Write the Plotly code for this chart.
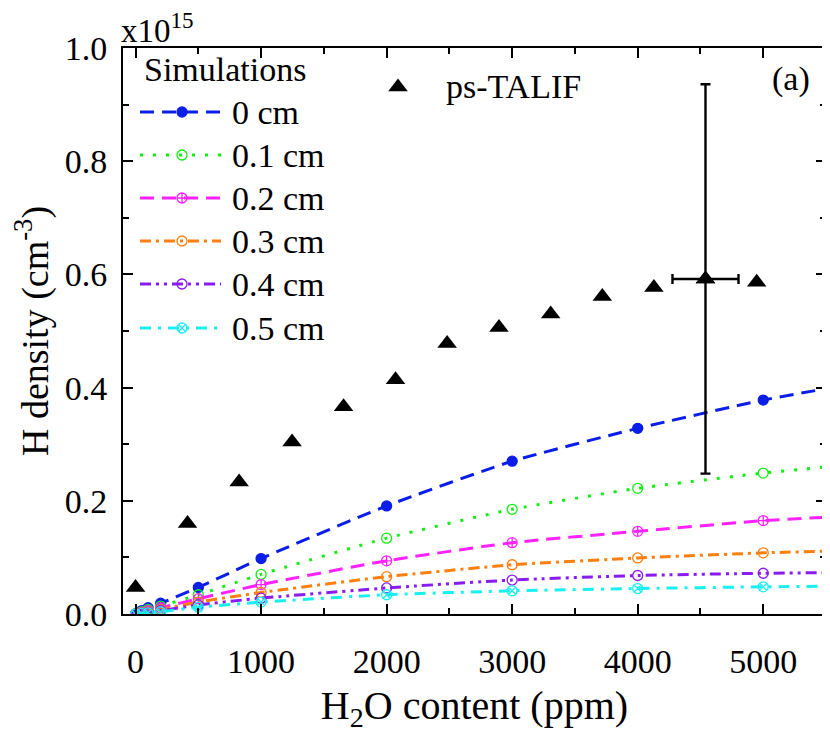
import plotly.graph_objects as go

# ---------------- data ----------------
sim_x = [0, 50, 100, 200, 500, 1000, 2000, 3000, 4000, 5000, 5500]
h_0cm = [0, 0.006, 0.011, 0.019, 0.047, 0.098, 0.191, 0.270, 0.328, 0.378, 0.398]
h_01cm = [0, 0.004, 0.008, 0.014, 0.034, 0.070, 0.134, 0.185, 0.222, 0.249, 0.260]
h_02cm = [0, 0.003, 0.006, 0.011, 0.027, 0.052, 0.094, 0.126, 0.146, 0.165, 0.171]
h_03cm = [0, 0.002, 0.004, 0.008, 0.021, 0.038, 0.066, 0.087, 0.099, 0.108, 0.111]
h_04cm = [0, 0.0015, 0.003, 0.006, 0.016, 0.028, 0.046, 0.060, 0.068, 0.072, 0.073]
h_05cm = [0, 0.001, 0.002, 0.004, 0.012, 0.021, 0.034, 0.041, 0.045, 0.048, 0.049]
marker_count = 10  # markers drawn at the first 10 sample points (up to 5000 ppm)

talif_x = [0, 414, 825, 1247, 1657, 2071, 2482, 2895, 3307, 3718, 4129, 4540, 4948]
talif_y = [0.047, 0.160, 0.233, 0.304, 0.366, 0.414, 0.478, 0.506, 0.530, 0.561, 0.577, 0.592, 0.586]
err_index = 11
err_x = [263]
err_y = [0.344]

series_names = ["0 cm", "0.1 cm", "0.2 cm", "0.3 cm", "0.4 cm", "0.5 cm"]
series_vals = [h_0cm, h_01cm, h_02cm, h_03cm, h_04cm, h_05cm]

# ---------------- styles ----------------
colors = ["#0a1ee8", "#11ee11", "#ff22ff", "#ff7f0e", "#8a1cf0", "#18f0f0"]
dashes = ["14px,8px", "3px,10px", "14px,8px", "11px,5px,3px,5px",
          "11px,5px,3px,5px,3px,5px", "11px,7px,3px,7px"]
symbols = ["circle", "circle-open", "circle-cross-open", "circle-open",
           "circle-open", "circle-x-open"]

FONT = "Liberation Serif"
OFF = 8  # page body margin in the browser
W, H = 830 - OFF, 737 - OFF
# plot area in page pixels: x 123..826, y 48..614
PX0, PX1, PY0, PY1 = 123, 826, 48, 614
L, T = PX0 - OFF, PY0 - OFF
R, B = W - (PX1 - OFF), H - (PY1 - OFF)
PW, PH = PX1 - PX0, PY1 - PY0


def lx(px):
    return (px - PX0) / PW


def ly(py):
    return (PY1 - py) / PH


fig = go.Figure()

for name, vals, c, d, s in zip(series_names, series_vals, colors, dashes, symbols):
    fig.add_trace(go.Scatter(x=sim_x, y=vals, mode="lines",
                             line=dict(color=c, width=3, dash=d, shape="spline", smoothing=0.5),
                             showlegend=False, hoverinfo="skip"))
    fig.add_trace(go.Scatter(x=sim_x[:marker_count], y=vals[:marker_count], mode="markers",
                             marker=dict(symbol=s, size=10 if s == "circle" else 10, color=c,
                                         line=dict(color=c, width=1.3)),
                             showlegend=False, name=name))

fig.add_trace(go.Scatter(x=talif_x, y=talif_y, mode="markers",
                         marker=dict(symbol="triangle-up", size=17, color="black"),
                         showlegend=False, name="ps-TALIF"))
fig.add_trace(go.Scatter(x=[talif_x[err_index]], y=[talif_y[err_index]], mode="markers",
                         marker=dict(symbol="triangle-up", size=17, color="black"),
                         error_x=dict(type="data", array=err_x, color="black", thickness=2.4, width=5),
                         error_y=dict(type="data", array=err_y, color="black", thickness=2.4, width=5),
                         showlegend=False))

# ---------------- manual legend on overlay axes ----------------
row_y = [112, 155, 198, 241, 284, 328]
for ry, name, c, d, s in zip(row_y, series_names, colors, dashes, symbols):
    fig.add_trace(go.Scatter(x=[lx(140), lx(221)], y=[ly(ry), ly(ry)], mode="lines",
                             line=dict(color=c, width=3, dash=d), xaxis="x2", yaxis="y2",
                             showlegend=False, hoverinfo="skip"))
    fig.add_trace(go.Scatter(x=[lx(182)], y=[ly(ry)], mode="markers",
                             marker=dict(symbol=s, size=10, color=c,
                                         line=dict(color=c, width=1.3)),
                             xaxis="x2", yaxis="y2", showlegend=False, hoverinfo="skip"))
fig.add_trace(go.Scatter(x=[lx(398)], y=[ly(87)], mode="markers",
                         marker=dict(symbol="triangle-up", size=17, color="black"),
                         xaxis="x2", yaxis="y2", showlegend=False, hoverinfo="skip"))

annotations = [dict(x=lx(142), y=ly(69), text="Simulations")]
for ry, name in zip(row_y, series_names):
    annotations.append(dict(x=lx(230), y=ly(ry), text=name))
annotations.append(dict(x=lx(444), y=ly(86), text="ps-TALIF"))
annotations.append(dict(x=lx(770), y=ly(79), text="(a)"))
for a in annotations:
    a.update(xref="paper", yref="paper", xanchor="left", yanchor="middle", showarrow=False,
             font=dict(family=FONT, size=34, color="black"))
annotations.append(dict(x=lx(119), y=ly(28), xref="paper", yref="paper", xanchor="left", yanchor="middle",
                        showarrow=False, text="x10<sup>15</sup>",
                        font=dict(family=FONT, size=33, color="black")))

axis_common = dict(showline=True, linecolor="black", linewidth=2, mirror="allticks",
                   ticks="inside", ticklen=10, tickwidth=2, tickcolor="black",
                   showgrid=False, zeroline=False, automargin=False,
                   tickfont=dict(family=FONT, size=34, color="black"))

fig.update_layout(
    width=W, height=H,
    margin=dict(l=L, r=R, t=T, b=B, pad=0),
    font=dict(family=FONT, color="black"),
    paper_bgcolor="white", plot_bgcolor="white",
    xaxis=dict(range=[-100, 5500], dtick=1000, tick0=0,
               minor=dict(ticks="inside", ticklen=6, tickwidth=2, dtick=500, tickcolor="black"),
               title=dict(text="H<sub>2</sub>O content (ppm)", font=dict(family=FONT, size=40, color="black"), standoff=12),
               ticklabelstandoff=16,
               **axis_common),
    yaxis=dict(range=[0, 1.0], dtick=0.2, tick0=0, tickformat=".1f",
               minor=dict(ticks="inside", ticklen=6, tickwidth=2, dtick=0.1, tickcolor="black"),
               title=dict(text="H density (cm<sup>-3</sup>)", font=dict(family=FONT, size=38, color="black"), standoff=10),
               ticklabelstandoff=7,
               **axis_common),
    xaxis2=dict(range=[0, 1], overlaying="x", anchor="y2", visible=False),
    yaxis2=dict(range=[0, 1], overlaying="y", anchor="x2", visible=False),
    annotations=annotations,
    showlegend=False,
)

fig.write_html("out.html")
